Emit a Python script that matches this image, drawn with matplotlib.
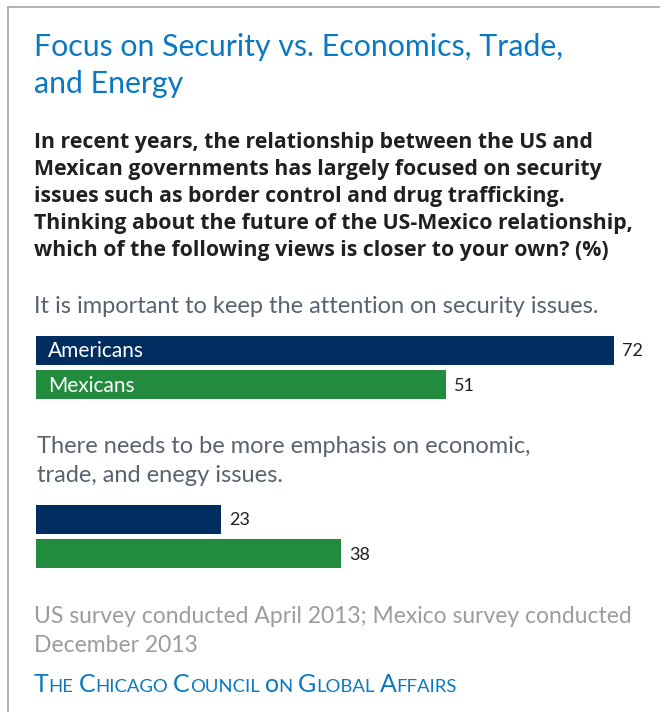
import matplotlib.pyplot as plt
from matplotlib.lines import Line2D

W, H = 660, 712

groups = ["It is important to keep the attention on security issues.",
          "There needs to be more emphasis on economic,\ntrade, and enegy issues."]
series = ["Americans", "Mexicans"]
security = [72, 51]
economics = [23, 38]

BLUE = "#0a78c2"
NAVY = "#002d5f"
GREEN = "#238b3e"
SLATE = "#59636f"
GRAY = "#9c9c9c"
FONT = "Lato"


def fx(x):
    return x / W


def fy(y):
    return 1 - y / H


fig = plt.figure(figsize=(W / 100, H / 100), dpi=100)

# frame on top and left
fig.add_artist(Line2D([fx(8), fx(660)], [fy(7), fy(7)], color="#a5a5a5", lw=1.2))
fig.add_artist(Line2D([fx(8), fx(8)], [fy(7), fy(712)], color="#a5a5a5", lw=1.2))

fig.text(fx(34), fy(56), "Focus on Security vs. Economics, Trade,", family=FONT,
         size=21.8, color=BLUE, va="baseline")
fig.text(fx(34), fy(93), "and Energy", family=FONT, size=21.8, color=BLUE, va="baseline")

question = ["In recent years, the relationship between the US and",
            "Mexican governments has largely focused on security",
            "issues such as border control and drug trafficking.",
            "Thinking about the future of the US-Mexico relationship,",
            "which of the following views is closer to your own? (%)"]
for i, line in enumerate(question):
    fig.text(fx(34), fy(148 + i * 27), line, family="Open Sans", weight="bold",
             size=15.3, color="#231f20", va="baseline")

fig.text(fx(34), fy(313), groups[0], family=FONT, size=17, color=SLATE, va="baseline")
g2 = groups[1].split("\n")
fig.text(fx(37), fy(453), g2[0], family=FONT, size=17, color=SLATE, va="baseline")
fig.text(fx(37), fy(482), g2[1], family=FONT, size=17, color=SLATE, va="baseline")


def bars(top, values, names):
    ax = fig.add_axes([fx(36), fy(top + 63), 75 * 8.03 / W, 63 / H])
    ax.barh([0, 1], values, height=0.84, color=[NAVY, GREEN])
    ax.set_xlim(0, 75)
    ax.set_ylim(1.42, -0.42)
    ax.axis("off")
    for i, v in enumerate(values):
        ax.text(v + 1, i + 0.03, str(v), va="center", ha="left", family=FONT,
                size=13, color="#231f20")
        if names:
            ax.text(1.5, i + 0.03, series[i], va="center", ha="left", family=FONT,
                    size=15, color="white")


bars(336, security, True)
bars(505, economics, False)

fig.text(fx(34), fy(623), "US survey conducted April 2013; Mexico survey conducted",
         family=FONT, size=16.5, color=GRAY, va="baseline")
fig.text(fx(34), fy(652), "December 2013", family=FONT, size=16.5, color=GRAY, va="baseline")

# small caps credit line, drawn piece by piece
renderer = fig.canvas.get_renderer()
x = fx(34)
credit = "The Chicago Council on Global Affairs"
for word_i, word in enumerate(credit.split(" ")):
    pieces = [(word[0], 18), (word[1:].upper(), 13.3)]
    if word_i:
        pieces.insert(0, (" ", 13.3))
    for s, size in pieces:
        if not s:
            continue
        t = fig.text(x, fy(692), s, family=FONT, size=size, color=BLUE, va="baseline")
        bb = t.get_window_extent(renderer=renderer)
        x += bb.width / W if s != " " else 5 / W

fig.savefig("out.png", dpi=100)
